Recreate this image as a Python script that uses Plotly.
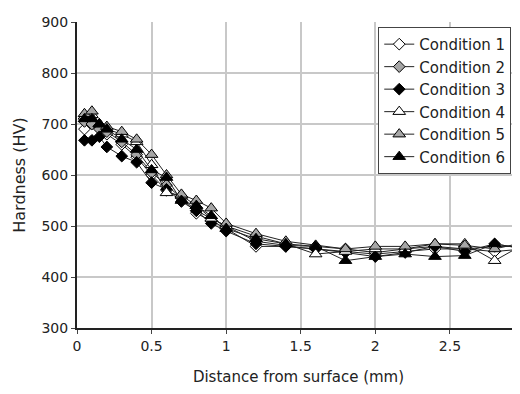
import plotly.graph_objects as go

distance_mm = [0.05, 0.1, 0.15, 0.2, 0.3, 0.4, 0.5, 0.6, 0.7, 0.8, 0.9, 1.0,
               1.2, 1.4, 1.6, 1.8, 2.0, 2.2, 2.4, 2.6, 2.8, 3.0]

cond1 = [690, 705, 695, 680, 660, 635, 600, 570, 555, 525, 510, 495,
         460, 460, 455, 450, 445, 450, 455, 455, 450, 455]
cond2 = [705, 700, 690, 685, 665, 640, 605, 580, 555, 530, 515, 500,
         470, 462, 460, 455, 448, 455, 460, 455, 460, 460]
cond3 = [668, 668, 675, 655, 637, 625, 585, 572, 548, 530, 505, 490,
         465, 460, 455, 448, 440, 448, 460, 450, 465, 455]
cond4 = [715, 718, 700, 690, 680, 665, 620, 565, 560, 540, 515, 500,
         480, 465, 445, 450, 455, 455, 465, 465, 432, 465]
cond5 = [720, 725, 700, 695, 685, 670, 640, 600, 562, 550, 535, 505,
         485, 470, 462, 455, 460, 460, 465, 462, 455, 468]
cond6 = [710, 710, 700, 690, 670, 650, 610, 595, 550, 540, 520, 495,
         475, 465, 460, 432, 440, 445, 440, 442, 465, 455]

names = ["Condition 1", "Condition 2", "Condition 3",
         "Condition 4", "Condition 5", "Condition 6"]
series = [cond1, cond2, cond3, cond4, cond5, cond6]
symbols = ["diamond", "diamond", "diamond",
           "triangle-up", "triangle-up", "triangle-up"]
fills = ["white", "#a6a6a6", "black", "white", "#a6a6a6", "black"]
sizes = [9, 9, 9, 11, 11, 11]

fig = go.Figure()
for name, ys, sym, fc, sz in zip(names, series, symbols, fills, sizes):
    fig.add_trace(go.Scatter(
        x=distance_mm, y=ys, name=name, mode="lines+markers",
        line=dict(color="#222222", width=1),
        marker=dict(symbol=sym, size=sz, color=fc,
                    line=dict(color="black", width=1)),
    ))

font_family = "DejaVu Sans, Liberation Sans, Arial, sans-serif"
fig.update_layout(
    width=512, height=378,
    margin=dict(l=69, r=0, t=14, b=58),
    paper_bgcolor="white", plot_bgcolor="white",
    font=dict(family=font_family, size=14, color="#222222"),
    showlegend=True,
    legend=dict(x=0.68, y=0.984, xanchor="left", yanchor="top",
                bgcolor="white", bordercolor="#444444", borderwidth=1,
                font=dict(size=15, color="#222222"),
                itemwidth=30, tracegroupgap=0),
    xaxis=dict(range=[0, 2.97], tickvals=[0, 0.5, 1, 1.5, 2, 2.5],
               ticktext=["0", "0.5", "1", "1.5", "2", "2.5"],
               showgrid=True, gridcolor="#c8c8c8", gridwidth=1.5,
               showline=True, linecolor="#222222", linewidth=2,
               ticks="outside", ticklen=4, tickcolor="#444444",
               zeroline=False, automargin=False,
               title=dict(text="Distance from surface (mm)",
                          font=dict(size=15), standoff=22)),
    yaxis=dict(range=[300, 900], tickvals=[300, 400, 500, 600, 700, 800, 900],
               showgrid=True, gridcolor="#c8c8c8", gridwidth=1.5,
               showline=True, linecolor="#222222", linewidth=2,
               ticks="outside", ticklen=4, tickcolor="#444444",
               zeroline=False, automargin=False,
               title=dict(text="Hardness (HV)", font=dict(size=16),
                          standoff=12)),
)

fig.write_html("out.html")
